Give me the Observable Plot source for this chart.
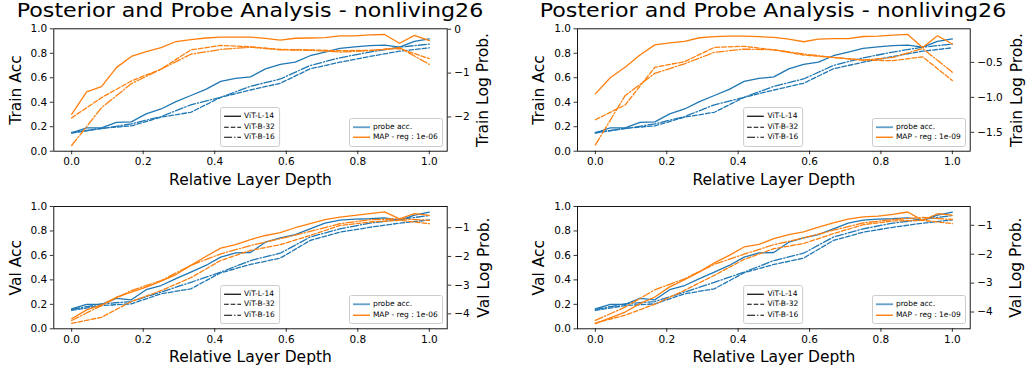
<!DOCTYPE html>
<html><head><meta charset="utf-8">
<script src="https://cdn.jsdelivr.net/npm/d3@7"></script>
<script src="https://cdn.jsdelivr.net/npm/@observablehq/plot@0.6"></script>
<style>
body{margin:0;background:#fff;font-family:"DejaVu Sans",sans-serif;}
#root{position:relative;width:1026px;height:372px;overflow:hidden;background:#fff;}
.panel{position:absolute;}
.title{position:absolute;font-size:18.8px;text-align:center;white-space:nowrap;line-height:21.9px;height:21.9px;color:#000;transform:scaleX(1.18);transform-origin:50% 50%;}
.legend{position:absolute;background:rgba(255,255,255,0.8);border:1px solid #cccccc;border-radius:2.5px;padding:3px 4px 3px 3px;font-size:7.5px;line-height:10.5px;color:#000;white-space:nowrap;z-index:5;}
.legend .row{display:flex;align-items:center;height:10.5px;}
.legend svg{width:17px;height:10.5px;margin-right:3px;display:block;flex:none;}
</style></head><body><div id="root"></div>
<script>
// ---- data ----
const depthL14 = [0, 0.0417, 0.0833, 0.125, 0.1667, 0.2083, 0.25, 0.2917, 0.3333, 0.375, 0.4167, 0.4583, 0.5, 0.5417, 0.5833, 0.625, 0.6667, 0.7083, 0.75, 0.7917, 0.8333, 0.875, 0.9167, 0.9583, 1];
const depthB = [0, 0.0833, 0.1667, 0.25, 0.3333, 0.4167, 0.5, 0.5833, 0.6667, 0.75, 0.8333, 0.9167, 1];
const models = ["ViT-L-14", "ViT-B-32", "ViT-B-16"];

const trainAccL14 = [0.15,0.19,0.19,0.235,0.24,0.305,0.345,0.405,0.455,0.505,0.57,0.595,0.607,0.673,0.71,0.727,0.78,0.81,0.84,0.853,0.863,0.866,0.85,0.898,0.917];
const trainAccB32 = [0.147,0.187,0.207,0.278,0.318,0.44,0.50,0.555,0.673,0.727,0.774,0.817,0.845];
const trainAccB16 = [0.153,0.185,0.223,0.283,0.379,0.44,0.53,0.59,0.70,0.763,0.81,0.85,0.875];

const trainLpL14_1e6 = [-1.94,-1.43,-1.31,-0.875,-0.62,-0.51,-0.42,-0.28,-0.236,-0.2,-0.18,-0.18,-0.18,-0.21,-0.25,-0.205,-0.2,-0.19,-0.15,-0.15,-0.13,-0.12,-0.32,-0.14,-0.26];
const trainLpB32_1e6 = [-2.02,-1.56,-1.18,-0.91,-0.47,-0.37,-0.40,-0.46,-0.47,-0.49,-0.48,-0.44,-0.67];
const trainLpB16_1e6 = [-2.65,-1.79,-1.24,-0.91,-0.57,-0.46,-0.41,-0.47,-0.48,-0.52,-0.49,-0.42,-0.80];

const trainLpL14_1e9 = [-0.95,-0.72,-0.57,-0.395,-0.25,-0.22,-0.2,-0.148,-0.133,-0.124,-0.124,-0.133,-0.143,-0.167,-0.205,-0.167,-0.16,-0.16,-0.13,-0.124,-0.11,-0.1,-0.286,-0.12,-0.238];
const trainLpB32_1e9 = [-1.32,-1.11,-0.57,-0.49,-0.286,-0.27,-0.32,-0.395,-0.43,-0.467,-0.476,-0.42,-0.76];
const trainLpB16_1e9 = [-1.68,-0.976,-0.657,-0.52,-0.357,-0.31,-0.32,-0.38,-0.43,-0.467,-0.43,-0.30,-0.64];

const valAccL14 = [0.163,0.2,0.2,0.248,0.237,0.32,0.354,0.41,0.463,0.518,0.586,0.62,0.624,0.708,0.744,0.77,0.817,0.864,0.888,0.896,0.90,0.907,0.886,0.93,0.954];
const valAccB32 = [0.15,0.19,0.204,0.286,0.327,0.458,0.526,0.578,0.722,0.79,0.83,0.864,0.89];
const valAccB16 = [0.158,0.204,0.223,0.30,0.38,0.463,0.558,0.618,0.75,0.817,0.864,0.894,0.926];

const valLpL14_1e6 = [-4.17,-3.86,-3.69,-3.42,-3.24,-3.07,-2.86,-2.63,-2.31,-2.0,-1.71,-1.59,-1.41,-1.27,-1.17,-1.0,-0.86,-0.72,-0.63,-0.57,-0.51,-0.45,-0.69,-0.51,-0.57];
const valLpB32_1e6 = [-4.33,-4.12,-3.57,-3.19,-2.74,-2.14,-1.79,-1.59,-1.27,-0.92,-0.80,-0.74,-0.86];
const valLpB16_1e6 = [-4.23,-3.71,-3.19,-2.84,-2.31,-1.91,-1.62,-1.38,-1.13,-0.86,-0.72,-0.69,-0.74];

const valLpL14_1e9 = [-4.40,-4.2,-4.0,-3.71,-3.48,-3.13,-2.88,-2.61,-2.3,-2.04,-1.75,-1.66,-1.46,-1.32,-1.23,-1.06,-0.92,-0.79,-0.71,-0.68,-0.62,-0.54,-0.83,-0.6,-0.65];
const valLpB32_1e9 = [-4.38,-4.11,-3.73,-3.25,-2.73,-2.18,-1.81,-1.63,-1.29,-0.98,-0.85,-0.83,-0.94];
const valLpB16_1e9 = [-4.29,-3.83,-3.23,-2.85,-2.35,-2.0,-1.67,-1.44,-1.17,-0.92,-0.80,-0.73,-0.80];

const xTicks = [0, 0.2, 0.4, 0.6, 0.8, 1.0];
const accTicks = [0, 0.2, 0.4, 0.6, 0.8, 1.0];
const trainLpTicks_1e6 = [-2, -1, 0];
const trainLpTicks_1e9 = [-1.5, -1.0, -0.5];
const valLpTicks = [-4, -3, -2, -1];
const titleText = "Posterior and Probe Analysis - nonliving26";
const blue = "#1f77b4", orange = "#ff7f0e";
const dashes = ["none", "4.6,2", "8,2,1.3,2"];

// ---- panels ----
const panels = [
  {left:0, top:22, width:513, height:168, f:{l:53.3, r:446.7, t:28.3, b:150.7},
   acc:[trainAccL14, trainAccB32, trainAccB16], lp:[trainLpL14_1e6, trainLpB32_1e6, trainLpB16_1e6],
   lpDomain:[-2.78, 0.01], lpTicks: trainLpTicks_1e6, lpFmt: d3.format("d"),
   yLabel:"Train Acc", y2Label:"Train Log Prob.", reg:"1e-06", y2dx:36, title:true},
  {left:513, top:22, width:513, height:168, f:{l:577, r:969.7, t:28.3, b:150.7},
   acc:[trainAccL14, trainAccB32, trainAccB16], lp:[trainLpL14_1e9, trainLpB32_1e9, trainLpB16_1e9],
   lpDomain:[-1.77, -0.02], lpTicks: trainLpTicks_1e9, lpFmt: d3.format(".1f"),
   yLabel:"Train Acc", y2Label:"Train Log Prob.", reg:"1e-09", y2dx:47, title:true},
  {left:0, top:195, width:513, height:177, f:{l:53.3, r:446.7, t:206, b:328.3},
   acc:[valAccL14, valAccB32, valAccB16], lp:[valLpL14_1e6, valLpB32_1e6, valLpB16_1e6],
   lpDomain:[-4.52, -0.26], lpTicks: valLpTicks, lpFmt: d3.format("d"),
   yLabel:"Val Acc", y2Label:"Val Log Prob.", reg:"1e-06", y2dx:37, title:false},
  {left:513, top:195, width:513, height:177, f:{l:577, r:969.7, t:206, b:328.3},
   acc:[valAccL14, valAccB32, valAccB16], lp:[valLpL14_1e9, valLpB32_1e9, valLpB16_1e9],
   lpDomain:[-4.58, -0.35], lpTicks: valLpTicks, lpFmt: d3.format("d"),
   yLabel:"Val Acc", y2Label:"Val Log Prob.", reg:"1e-09", y2dx:46, title:false}
];

const root = document.getElementById("root");

function rows(xs, ys) { return ys.map((v, i) => ({x: xs[i], y: v})); }

for (const p of panels) {
  const [lo, hi] = p.lpDomain;
  const toLeft = v => (v - lo) / (hi - lo);
  const fromLeft = u => lo + u * (hi - lo);
  const depths = [depthL14, depthB, depthB];
  const marks = [];
  p.acc.forEach((arr, k) => marks.push(Plot.line(rows(depths[k], arr), {x:"x", y:"y", stroke: blue, strokeWidth: 1.3, strokeDasharray: dashes[k]})));
  p.lp.forEach((arr, k) => marks.push(Plot.line(rows(depths[k], arr.map(toLeft)), {x:"x", y:"y", stroke: orange, strokeWidth: 1.3, strokeDasharray: dashes[k]})));
  marks.push(
    Plot.frame({stroke:"black", strokeWidth: 0.9}),
    Plot.axisX(xTicks, {tickSize: 3.5, tickPadding: 3, tickFormat: d3.format(".1f"), label: null, fontSize: 10.5, strokeWidth: 0.8}),
    Plot.axisY(accTicks, {anchor:"left", tickSize: 3.5, tickPadding: 3, tickFormat: d3.format(".1f"), label: null, fontSize: 10.5, strokeWidth: 0.8}),
    Plot.axisY(p.lpTicks.map(toLeft), {anchor:"right", tickSize: 3.5, tickPadding: 3.5, tickFormat: d => p.lpFmt(Math.round(fromLeft(d) * 10) / 10), label: null, fontSize: 10.5, strokeWidth: 0.8}),
    Plot.text(["Relative Layer Depth"], {text: d => d, frameAnchor:"bottom", dy: 28.5, textAnchor:"middle", lineAnchor:"middle", fontSize: 15.5}),
    Plot.text([p.yLabel], {text: d => d, frameAnchor:"left", dx: -38, rotate: -90, textAnchor:"middle", lineAnchor:"middle", fontSize: 15.5}),
    Plot.text([p.y2Label], {text: d => d, frameAnchor:"right", dx: p.y2dx, rotate: -90, textAnchor:"middle", lineAnchor:"middle", fontSize: 15.5})
  );
  const svg = Plot.plot({
    width: p.width, height: p.height,
    marginLeft: p.f.l - p.left, marginRight: p.left + p.width - p.f.r,
    marginTop: p.f.t - p.top, marginBottom: p.top + p.height - p.f.b,
    x: {domain: [-0.05, 1.05]},
    y: {domain: [0, 1]},
    style: {fontFamily: "DejaVu Sans", fontSize: "10.5px", background: "transparent", color: "black", overflow: "visible"},
    marks
  });
  const wrap = document.createElement("div");
  wrap.className = "panel";
  wrap.style.left = p.left + "px"; wrap.style.top = p.top + "px";
  wrap.appendChild(svg);
  root.appendChild(wrap);

  if (p.title) {
    const t = document.createElement("div");
    t.className = "title";
    t.textContent = titleText;
    const cx = (p.f.l + p.f.r) / 2;
    t.style.left = (cx - 250) + "px"; t.style.width = "500px"; t.style.top = "0px";
    root.appendChild(t);
  }

  // legends
  const lineSvg = (color, dash, sw, op) => `<svg viewBox="0 0 17 10.5"><line x1="0" x2="17" y1="5.25" y2="5.25" stroke="${color}" stroke-width="${sw}" stroke-opacity="${op}" stroke-dasharray="${dash}"/></svg>`;
  const l1 = document.createElement("div");
  l1.className = "legend";
  l1.innerHTML = models.map((m, k) => `<div class="row">${lineSvg("black", dashes[k], 1.2, 1)}<span>${m}</span></div>`).join("");
  l1.style.left = ((p.f.l + p.f.r) / 2) + "px";
  l1.style.transform = "translateX(-50%)";
  l1.style.bottom = (372 - (p.f.b - 4)) + "px";
  root.appendChild(l1);

  const l2 = document.createElement("div");
  l2.className = "legend";
  l2.innerHTML = `<div class="row">${lineSvg(blue, "none", 1.8, 0.7)}<span>probe acc.</span></div>` +
                 `<div class="row">${lineSvg(orange, "none", 1.4, 1)}<span>MAP - reg : ${p.reg}</span></div>`;
  l2.style.right = (1026 - (p.f.r - 4)) + "px";
  l2.style.bottom = (372 - (p.f.b - 4)) + "px";
  root.appendChild(l2);
}
</script></body></html>
